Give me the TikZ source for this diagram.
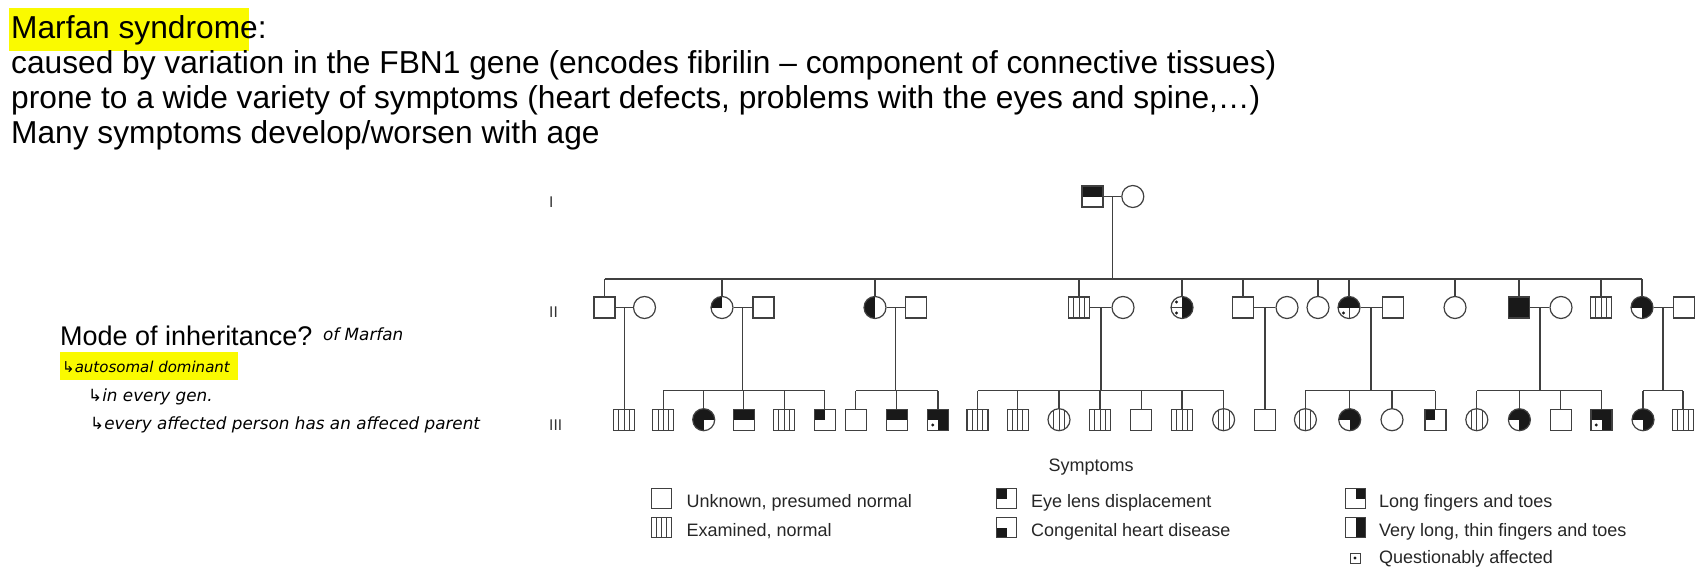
\documentclass[tikz,border=0pt]{standalone}
\usepackage{fontspec}
\setmainfont{Liberation Sans}
\newfontfamily\handfont{DejaVu Sans}
\usetikzlibrary{positioning,calc}

\definecolor{lineg}{gray}{0.25}
\definecolor{fillg}{gray}{0.1}
\definecolor{hl}{RGB}{250,250,0}

% symptom marks, used inside a path picture
\newcommand{\symEye}{\fill[fillg] (path picture bounding box.north west) rectangle (path picture bounding box.center);}
\newcommand{\symLong}{\fill[fillg] (path picture bounding box.north east) rectangle (path picture bounding box.center);}
\newcommand{\symHeart}{\fill[fillg] (path picture bounding box.south west) rectangle (path picture bounding box.center);}
\newcommand{\symVlong}{\fill[fillg] (path picture bounding box.north east) rectangle (path picture bounding box.south);}
\newcommand{\symExam}{\foreach \q in {0.25,0.5,0.75}
  \draw[lineg,line width=1pt] ($(path picture bounding box.south west)!\q!(path picture bounding box.south east)$) -- ($(path picture bounding box.north west)!\q!(path picture bounding box.north east)$);}
\newcommand{\symDot}[1]{\fill[fillg] ($(path picture bounding box.center)!0.5!(path picture bounding box.#1)$) circle (1.6pt);}
\newcommand{\symHline}{\draw[lineg,line width=1pt] (path picture bounding box.west) -- (path picture bounding box.center);}
\newcommand{\symVline}{\draw[lineg,line width=1pt] (path picture bounding box.south) -- (path picture bounding box.center);}

\tikzset{
  person/.style={draw=lineg, line width=1.2pt, fill=white, inner sep=0pt},
  male/.style={person, rectangle, minimum size=21pt},
  female/.style={person, circle, minimum size=22pt},
  marks/.style={path picture={#1}},
  keybox/.style={person, line width=1pt, rectangle, minimum size=20pt},
  link/.style={draw=lineg, line width=1.1pt},
  bigtext/.style={anchor=base west, inner sep=0pt, font=\fontsize{31.7}{35}\selectfont},
  handtext/.style={anchor=base west, inner sep=0pt, font=\handfont\itshape\fontsize{16.8}{19}\selectfont},
  gentext/.style={anchor=base west, inner sep=0pt, text=black!80, font=\fontsize{15.5}{18}\selectfont},
  keytext/.style={anchor=base west, inner sep=0pt, text=black!85, font=\fontsize{18}{21}\selectfont},
}

\begin{document}
\begin{tikzpicture}[x=1pt, y=-1pt, on grid, node distance=42pt]
  \useasboundingbox (0,0) rectangle (1705,567);

  % notes
  \fill[hl] (9,8) rectangle (249,51);
  \node[bigtext] (title) at (11,38.5) {Marfan syndrome:};
  \node[bigtext] (note1) at (11,73.5) {caused by variation in the FBN1 gene (encodes fibrilin – component of connective tissues)};
  \node[bigtext] (note2) at (11,108.5) {prone to a wide variety of symptoms (heart defects, problems with the eyes and spine,…)};
  \node[bigtext] (note3) at (11,143.5) {Many symptoms develop/worsen with age};

  \node[anchor=base west, inner sep=0pt, font=\fontsize{27}{30}\selectfont] (mode) at (60,345) {Mode of inheritance?};
  \node[handtext] (ofm) at (323,340) {of Marfan};
  \fill[hl] (60,352) rectangle (238,380);
  \node[handtext, font=\handfont\itshape\fontsize{15}{18}\selectfont] (adom) at (62,372) {↳autosomal dominant};
  \node[handtext] (every) at (88,401) {↳in every gen.};
  \node[handtext] (parent) at (90,429) {↳every affected person has an affeced parent};

  % generation labels
  \node[gentext] (gI) at (549,207) {I};
  \node[gentext] (gII) at (549,317) {II};
  \node[gentext] (gIII) at (549,430) {III};

  % generation I
  \node[male, marks={\symEye\symLong}] (I1) at (1092.5,196.5) {};
  \node[female] (I2) [right=40.3pt of I1] {};

  % generation II
  \node[male] (II1) at (604.5,307.5) {};
  \node[female] (II1s) [right=40pt of II1] {};
  \node[female, marks=\symEye] (II2) at (722,307.5) {};
  \node[male] (II2s) [right=41.5pt of II2] {};
  \node[female, marks={\symEye\symHeart}] (II3) at (875,307.5) {};
  \node[male] (II3s) [right=41pt of II3] {};
  \node[male, marks=\symExam] (II4) at (1079,307.5) {};
  \node[female] (II4s) [right=44pt of II4] {};
  \node[female, marks={\symVlong\symHline\symDot{north west}\symDot{south west}}] (II5) at (1182,307.5) {};
  \node[male] (II6) at (1243,307.5) {};
  \node[female] (II6s) [right=44pt of II6] {};
  \node[female] (II7) at (1318,307.5) {};
  \node[female, marks={\symEye\symLong\symVline\symDot{south west}}] (II8) at (1349,307.5) {};
  \node[male] (II8s) [right=44pt of II8] {};
  \node[female] (II9) at (1455,307.5) {};
  \node[male, fill=fillg] (II10) at (1519,307.5) {};
  \node[female] (II10s) [right=of II10] {};
  \node[male, marks=\symExam] (II11) at (1601,307.5) {};
  \node[female, marks={\symEye\symLong\symVlong}] (II12) at (1642,307.5) {};
  \node[male] (II12s) [right=of II12] {};

  % generation III
  \node[male, marks=\symExam] (III1) at (624,419.7) {};
  \node[male, marks=\symExam] (III2) at (663.3,419.7) {};
  \node[female, marks={\symEye\symLong\symHeart}] (III3) at (703.7,419.7) {};
  \node[male, marks={\symEye\symLong}] (III4) at (743.7,419.7) {};
  \node[male, marks=\symExam] (III5) at (784.2,419.7) {};
  \node[male, marks=\symEye] (III6) at (824.8,419.7) {};
  \node[male] (III7) at (855.8,419.7) {};
  \node[male, marks={\symEye\symLong}] (III8) at (896.7,419.7) {};
  \node[male, marks={\symEye\symLong\symVlong\symDot{south west}}] (III9) at (938,419.7) {};
  \node[male, marks=\symExam] (III10) at (977.5,419.7) {};
  \node[male, marks=\symExam] (III11) at (1017.6,419.7) {};
  \node[female, marks=\symExam] (III12) at (1059,419.7) {};
  \node[male, marks=\symExam] (III13) at (1100,419.7) {};
  \node[male] (III14) at (1141.3,419.7) {};
  \node[male, marks=\symExam] (III15) at (1182,419.7) {};
  \node[female, marks=\symExam] (III16) at (1223.6,419.7) {};
  \node[male] (III17) at (1265,419.7) {};
  \node[female, marks=\symExam] (III18) at (1305.4,419.7) {};
  \node[female, marks={\symEye\symLong\symVlong}] (III19) at (1349.7,419.7) {};
  \node[female] (III20) at (1392,419.7) {};
  \node[male, marks=\symEye] (III21) at (1435.4,419.7) {};
  \node[female, marks=\symExam] (III22) at (1476.8,419.7) {};
  \node[female, marks={\symEye\symLong\symVlong}] (III23) at (1519.4,419.7) {};
  \node[male] (III24) at (1560.7,419.7) {};
  \node[male, marks={\symEye\symLong\symVlong\symDot{south west}}] (III25) at (1601.5,419.7) {};
  \node[female, marks={\symEye\symLong\symVlong}] (III26) at (1643,419.7) {};
  \node[male, marks=\symExam] (III27) at (1683,419.7) {};

  % lines of descent
  \coordinate (lv2) at (0,279);
  \coordinate (lv3) at (0,390.7);
  \draw[link] (I1) -- (I2);
  \coordinate (mI) at ($(I1)!.5!(I2)$);
  \draw[link] (mI) -- (mI |- lv2);
  \draw[link] (II1 |- lv2) -- (II12 |- lv2);
  \foreach \s in {1,...,12}
    \draw[link] (II\s) -- (II\s |- lv2);

  \foreach \p in {1,2,3,4,6,8,10,12} {
    \draw[link] (II\p) -- (II\p s);
    \coordinate (m\p) at ($(II\p)!.5!(II\p s)$);
  }
  \draw[link] (m1) -- (m1 |- III1.north);
  \draw[link] (m6) -- (m6 |- III17.north);
  \foreach \p/\a/\b in {2/2/6, 3/7/9, 4/10/16, 8/18/21, 10/22/25, 12/26/27} {
    \draw[link] (m\p) -- (m\p |- lv3);
    \draw[link] (III\a |- lv3) -- (III\b |- lv3);
    \foreach \c in {\a,...,\b}
      \draw[link] (III\c) -- (III\c |- lv3);
  }

  % key
  \node[keytext, anchor=base] (symp) at (1091,471.5) {Symptoms};
  \node[keybox] (k1) at (661.5,498.5) {};
  \node[keytext] (k1t) at (686.5,507.5) {Unknown, presumed normal};
  \node[keybox, marks=\symExam] (k2) at (661.5,527.5) {};
  \node[keytext] (k2t) at (686.5,536.5) {Examined, normal};
  \node[keybox, marks=\symEye] (k3) at (1006.5,498.5) {};
  \node[keytext] (k3t) at (1031,507.5) {Eye lens displacement};
  \node[keybox, marks=\symHeart] (k4) at (1006.5,527.5) {};
  \node[keytext] (k4t) at (1031,536.5) {Congenital heart disease};
  \node[keybox, marks=\symLong] (k5) at (1355.5,498.5) {};
  \node[keytext] (k5t) at (1379,507.5) {Long fingers and toes};
  \node[keybox, marks=\symVlong] (k6) at (1355.5,527.5) {};
  \node[keytext] (k6t) at (1379,536.5) {Very long, thin fingers and toes};
  \node[person, line width=0.9pt, minimum size=10pt,
        marks={\fill[fillg] (path picture bounding box.center) circle (1.6pt);}] (k7) at (1355,558) {};
  \node[keytext] (k7t) at (1379,563) {Questionably affected};
\end{tikzpicture}
\end{document}
